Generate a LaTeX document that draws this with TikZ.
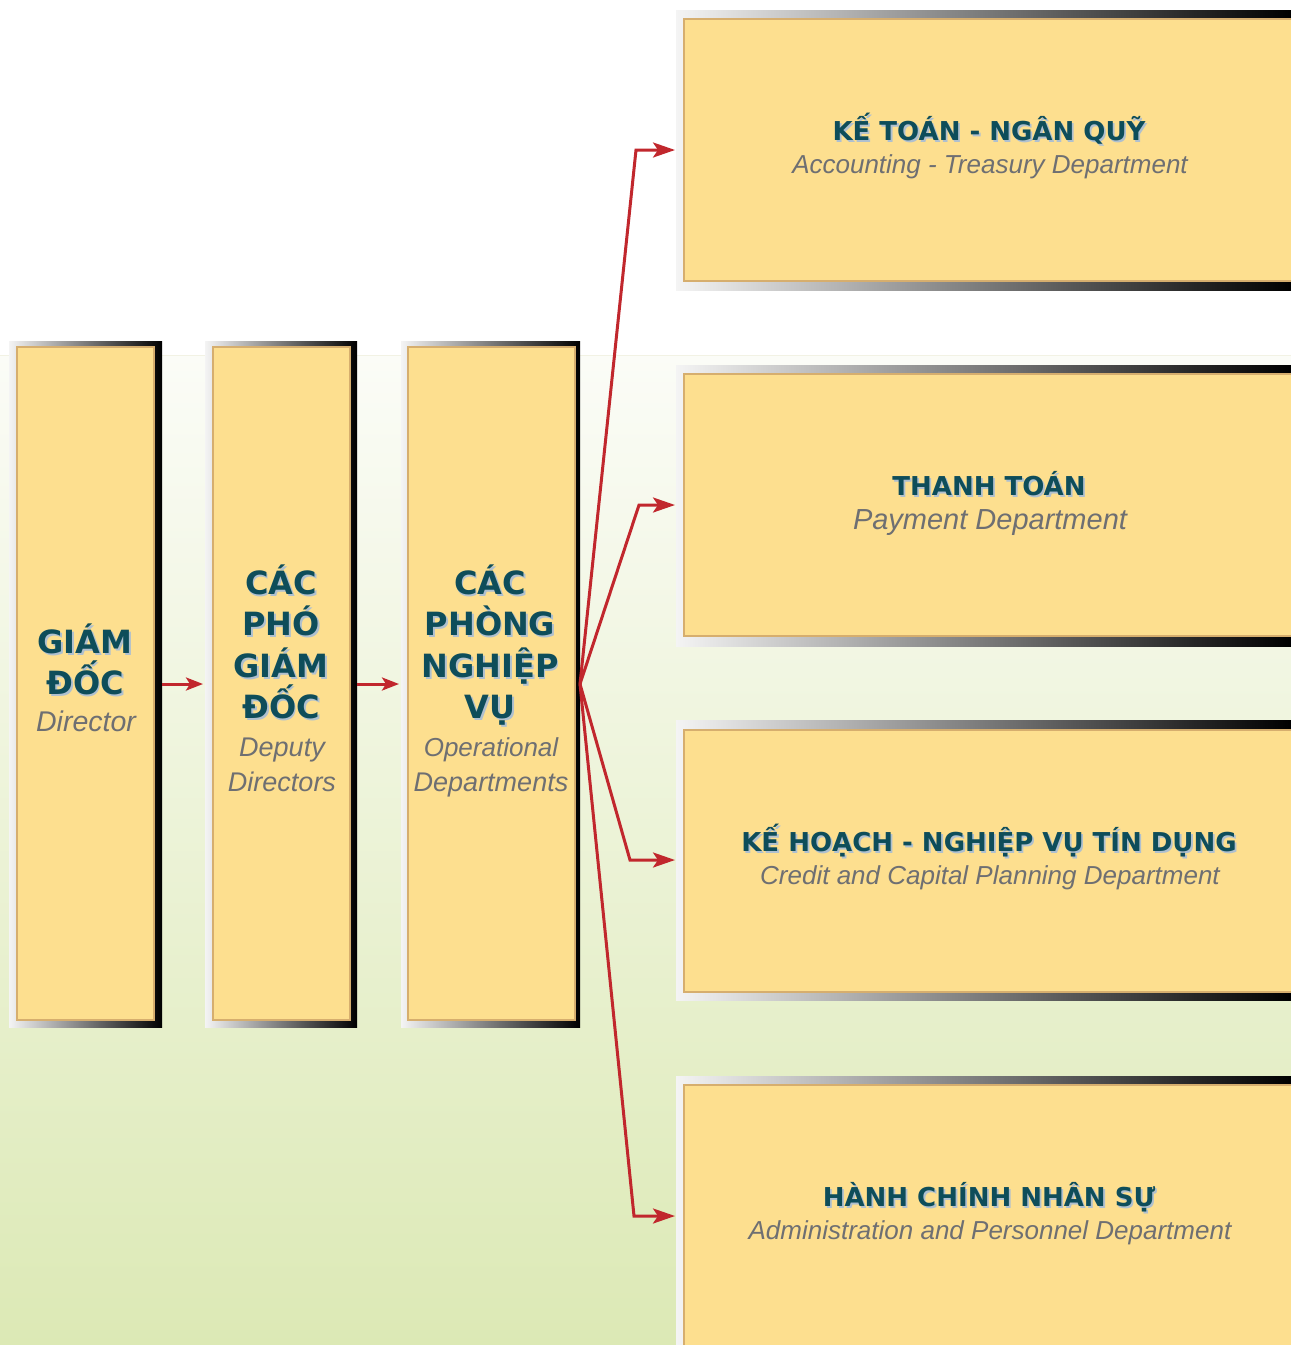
\documentclass[tikz,border=0pt]{standalone}
\usepackage{fontspec}
\setmainfont{DejaVu Sans}
\newfontfamily\vtfont{DejaVu Sans}
\newfontfamily\enfont{Liberation Sans}
\usetikzlibrary{arrows.meta}
\definecolor{boxyellow}{HTML}{FDDF8F}
\definecolor{boxedge}{HTML}{D6AE6E}
\definecolor{frameL}{HTML}{F4F4F4}
\definecolor{frameM}{HTML}{6A6260}
\definecolor{teal}{HTML}{0E4D5A}
\definecolor{tshadow}{HTML}{AFC0CF}
\definecolor{engrey}{HTML}{6E6F72}
\definecolor{arrred}{HTML}{C1272D}
\definecolor{bgtop}{HTML}{FBFCF7}
\definecolor{bgbot}{HTML}{DCE9B5}
\newcommand\shtext[5]{%
  \node[#1,text=tshadow] (#2s) at ({#3+1.8},{#4+1.8}) {#5};
  \node[#1] (#2) at (#3,#4) {#5};}
\begin{document}
\begin{tikzpicture}[x=1pt,y=-1pt,
  frame/.style={left color=frameL, middle color=frameM, right color=black, draw=none, inner sep=0pt, outer sep=0pt},
  inbox/.style={fill=boxyellow, draw=boxedge, line width=1.2pt, inner sep=0pt, outer sep=0pt},
  ltitle/.style={anchor=base, inner sep=0pt, text=teal, font=\vtfont\bfseries\fontsize{32}{41}\selectfont},
  rtitle/.style={anchor=base, inner sep=0pt, text=teal, font=\vtfont\bfseries\fontsize{26}{32}\selectfont},
  lsub/.style={anchor=base, inner sep=0pt, text=engrey, font=\enfont\itshape\fontsize{27}{32}\selectfont},
  rsub/.style={anchor=base, inner sep=0pt, text=engrey, font=\enfont\itshape\fontsize{26}{32}\selectfont},
  arr/.style={draw=arrred, line width=3pt, -{Stealth[length=17pt,width=13pt,inset=4pt]}, shorten >=2pt},
  fan/.style={draw=arrred, line width=3pt, line join=miter, -{Stealth[length=22pt,width=15pt,inset=5pt]}, shorten >=1pt}
]
\useasboundingbox (0,0) rectangle (1291,1345);
\clip (0,0) rectangle (1291,1345);
% background
\fill[white] (0,0) rectangle (1291,1345);
\shade[top color=bgtop, bottom color=bgbot] (0,355) rectangle (1291,1345);
\draw[color={rgb,255:red,242;green,242;blue,228}, line width=1pt] (0,355) -- (1291,355);

% left column boxes
\node[frame, minimum width=153pt, minimum height=686pt] (f1) at (85.5,684) {};
\node[inbox, minimum width=137pt, minimum height=673pt] (d1) at (85.5,683.5) {};
\node[frame, minimum width=152pt, minimum height=686pt] (f2) at (281,684) {};
\node[inbox, minimum width=137pt, minimum height=673pt] (d2) at (281.5,683.5) {};
\node[frame, minimum width=179pt, minimum height=686pt] (f3) at (490.5,684) {};
\node[inbox, minimum width=167pt, minimum height=673pt] (d3) at (491.5,683.5) {};

% right column boxes
\node[frame, minimum width=615pt, minimum height=280pt] (g1) at (983.5,150) {};
\node[inbox, minimum width=616pt, minimum height=262pt] (r1) at (992,150) {};
\node[frame, minimum width=615pt, minimum height=281pt] (g2) at (983.5,505.5) {};
\node[inbox, minimum width=616pt, minimum height=262pt] (r2) at (992,505) {};
\node[frame, minimum width=615pt, minimum height=280pt] (g3) at (983.5,860) {};
\node[inbox, minimum width=616pt, minimum height=262pt] (r3) at (992,861) {};
\node[frame, minimum width=615pt, minimum height=284pt] (g4) at (983.5,1218) {};
\node[inbox, minimum width=616pt, minimum height=275pt] (r4) at (992,1222.5) {};

% left texts
\shtext{ltitle}{t1a}{85}{653.5}{GIÁM}
\shtext{ltitle}{t1b}{85}{694.5}{ĐỐC}
\node[lsub, font=\enfont\itshape\fontsize{28.5}{32}\selectfont] (s1) at (86,731.5) {Director};

\shtext{ltitle}{t2a}{281}{594.5}{CÁC}
\shtext{ltitle}{t2b}{281}{635.5}{PHÓ}
\shtext{ltitle}{t2c}{281}{677.5}{GIÁM}
\shtext{ltitle}{t2d}{281}{718.5}{ĐỐC}
\node[lsub] (s2a) at (282,756) {Deputy};
\node[lsub] (s2b) at (282,791.5) {Directors};

\shtext{ltitle}{t3a}{490}{594.5}{CÁC}
\shtext{ltitle}{t3b}{490}{635.5}{PHÒNG}
\shtext{ltitle}{t3c}{490}{677.5}{NGHIỆP}
\shtext{ltitle}{t3d}{490}{718.5}{VỤ}
\node[lsub, font=\enfont\itshape\fontsize{26}{32}\selectfont] (s3a) at (491,756) {Operational};
\node[lsub] (s3b) at (491,791.5) {Departments};

% right texts
\shtext{rtitle}{u1}{989}{140.5}{KẾ TOÁN - NGÂN QUỸ}
\node[rsub] (v1) at (990,173.3) {Accounting - Treasury Department};
\shtext{rtitle}{u2}{989}{495.5}{THANH TOÁN}
\node[rsub, font=\enfont\itshape\fontsize{29}{32}\selectfont] (v2) at (990,529) {Payment Department};
\shtext{rtitle}{u3}{989}{851.5}{KẾ HOẠCH - NGHIỆP VỤ TÍN DỤNG}
\node[rsub] (v3) at (990,884.3) {Credit and Capital Planning Department};
\shtext{rtitle}{u4}{989}{1206.5}{HÀNH CHÍNH NHÂN SỰ}
\node[rsub] (v4) at (990,1239.3) {Administration and Personnel Department};

% arrows
\draw[arr] (f1.east) -- (f2.west);
\draw[arr] (f2.east) -- (f3.west);
\coordinate (e1) at (636,150);
\coordinate (e2) at (639,505);
\coordinate (e3) at (630,860);
\coordinate (e4) at (634,1216);
\draw[fan] (f3.east) -- (e1) -- (e1 -| g1.west);
\draw[fan] (f3.east) -- (e2) -- (e2 -| g2.west);
\draw[fan] (f3.east) -- (e3) -- (e3 -| g3.west);
\draw[fan] (f3.east) -- (e4) -- (e4 -| g4.west);
\end{tikzpicture}
\end{document}
